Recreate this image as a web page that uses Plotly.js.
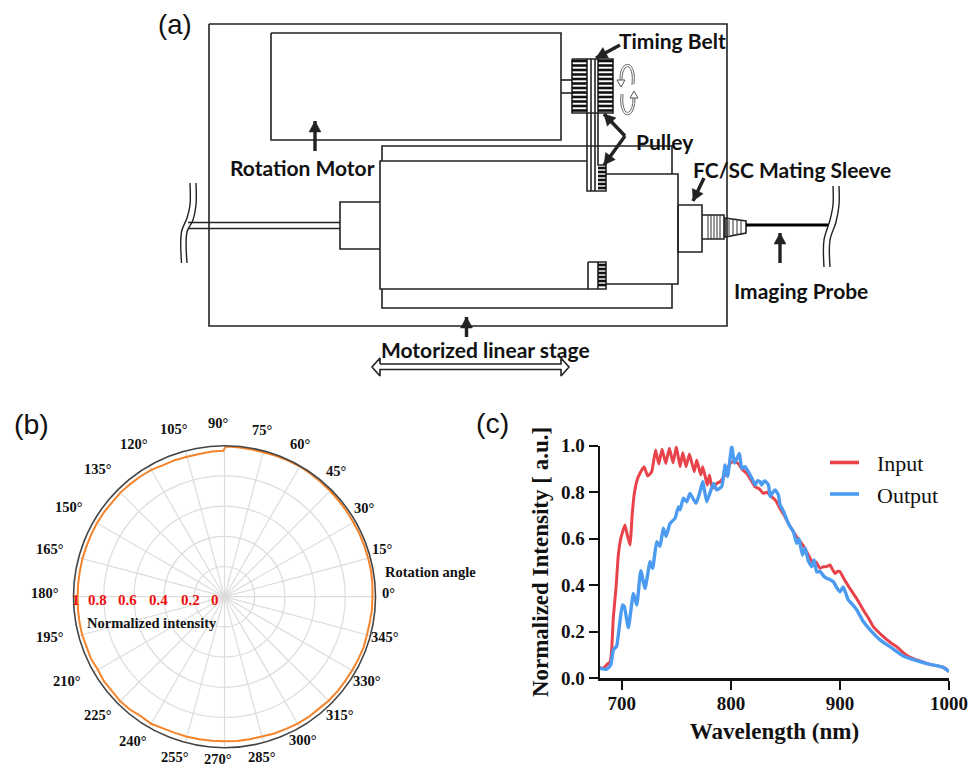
<!DOCTYPE html>
<html><head><meta charset="utf-8">
<script src="https://cdn.plot.ly/plotly-3.0.1.min.js"></script>
<style>html,body{margin:0;padding:0;background:#fff}</style></head>
<body><div id="chart" style="width:973px;height:767px"></div>
<script>
// Panel (c)
const inputWave=[680,683,686.7,689.3,690.7,692.2,694.7,696.8,699,702.9,705,707.5,709.6,711.5,714.2,717,720.4,723.7,727.4,731,733.9,736.9,740.3,743.6,747,750,753.4,755.9,758.9,762,766.4,768.7,772.4,774.2,778.4,780.3,783,787,790,794.7,799.3,802.3,806.7,810,814.4,818,822,826,829.7,833,837.3,841,845,849,852.6,856,860.2,864,867.9,871,875.5,878,881.7,885,887.8,890.8,893,895.4,898,900,904,909,915,921.4,926,930.6,935,939.8,946,952,958,964.2,973,982.6,991,996,1000];
const inputVal=[.047,.043,.061,.07,.122,.26,.39,.53,.60,.659,.616,.573,.709,.795,.855,.885,.91,.87,.888,.982,.921,.985,.924,.989,.927,.996,.91,.97,.91,.964,.888,.938,.874,.91,.831,.874,.817,.838,.845,.874,.924,.931,.924,.90,.881,.855,.824,.815,.795,.80,.781,.765,.73,.70,.666,.64,.609,.585,.559,.53,.494,.50,.473,.48,.48,.487,.47,.451,.46,.458,.425,.387,.345,.294,.26,.222,.20,.179,.155,.136,.11,.09,.075,.06,.052,.045,.029];
const outputWave=[680,686.1,689.8,692.2,695.3,697.7,700.5,702.3,706,710.6,713.7,717.4,721.3,725.9,728.3,732,735,738,740.5,744.2,748.8,751.9,753.4,756.4,759.5,762.5,768,771.7,774.2,777.9,784,787,791.6,794.7,797,800.8,803.3,805.5,807.8,810,813,816,819,822.3,824.5,826.8,828.2,831,834.5,836,838.5,840.6,843.6,845.1,848,851.3,854,857.3,860.4,862.5,865.6,868,871,874.2,876.3,878.7,881.7,885,887.8,890.5,894,897,900,903,907.6,911,915.3,921.4,927.5,936.7,945.9,958,970.3,982.6,994.8,1000];
const outputVal=[.043,.039,.057,.122,.139,.222,.315,.308,.218,.365,.315,.463,.387,.501,.473,.587,.567,.645,.61,.665,.688,.737,.724,.774,.759,.795,.752,.802,.845,.759,.838,.81,.824,.917,.867,.996,.925,.945,.967,.903,.91,.888,.862,.831,.85,.845,.831,.85,.831,.781,.80,.81,.788,.745,.72,.681,.655,.63,.58,.60,.53,.559,.505,.48,.509,.458,.46,.44,.43,.425,.415,.39,.372,.393,.337,.32,.295,.244,.209,.165,.136,.096,.076,.06,.047,.029];
const xTickVals=[700,800,900,1000];
const xTickText=['700','800','900','1000'];
const yTickVals=[0,0.2,0.4,0.6,0.8,1];
const yTickText=['0.0','0.2','0.4','0.6','0.8','1.0'];
const legendRows=[['Input','#e8434a',462.5],['Output','#4b9bf0',494]];

// Panel (b)
const polarAngles=[0,5,10,15,20,25,30,35,40,45,50,55,60,65,70,75,80,85,89.5,90.5,95,100,105,110,115,120,125,130,135,140,145,150,155,160,165,170,175,180,185,190,195,200,205,210,215,220,225,230,235,240,245,250,255,260,265,270,275,280,285,290,295,300,305,310,315,320,325,330,335,340,345,350,355,360];
const polarVals=[.98,.983,.985,.985,.985,.986,.985,.987,.988,.99,.992,.994,.996,.995,.993,.99,.992,.993,.995,.966,.965,.96,.96,.962,.962,.97,.972,.973,.975,.972,.975,.975,.974,.973,.974,.973,.973,.973,.974,.975,.976,.972,.975,.968,.975,.972,.978,.975,.966,.972,.962,.96,.96,.958,.958,.958,.959,.958,.958,.964,.966,.97,.972,.97,.975,.976,.975,.976,.978,.98,.977,.977,.98,.98];
const polarTicks=[[0,388,593],[15,382,549],[30,364,508],[45,336,471],[60,300,444],[75,262,430],[90,218,423],[105,174,429],[120,134,444],[135,98,469],[150,69,507],[165,50,549],[180,45,593],[195,50,637],[210,67,681],[225,98,715],[240,133,741],[255,175,757],[270,218,758.5],[285,262,757],[300,303,740],[315,340,715],[330,367,681],[345,385,637]];
const radialLabels=[['1',75.5],['0.8',97],['0.6',127],['0.4',158],['0.2',190],['0',215]];

// Panel (a), drawn on a page-sized scale
const outlines=[
 [[209,24],[727,24],[727,326],[209,326],[209,24]],
 [[271,33],[561,33],[561,140],[271,140],[271,33]],
 [[561,80],[572,80]],[[561,93],[572,93]],
 [[382,161],[382,146],[672,146],[672,174]],
 [[587,161],[380,161],[380,289],[588,289]],
 [[606,174],[678,174],[678,284],[606,284]],
 [[382,289],[382,308],[672,308],[672,284]],
 [[380,202],[340,202],[340,249],[380,249]],
 [[188,222.5],[340,222.5]],[[188,228.5],[340,228.5]],
 [[678,205],[702,205],[702,252],[678,252],[678,205]],
 [[702,215],[724,215],[724,239],[702,239]],
 [[725,218],[746,221],[746,233],[725,237],[725,218]],
 [[587,59],[587,191],[606,191],[606,165],[598,165],[598,59]],
 [[591,59],[591,191]],[[595,59],[595,191]],
 [[572,59],[613,59],[613,113],[572,113],[572,59]],
 [[588,262],[606,262],[606,289],[588,289],[588,262]],[[598,262],[598,289]],
 [[380,364],[561,364],[561,358],[569,367],[561,376],[561,369.5],[380,369.5],[380,376],[372,367],[380,358],[380,364]]
];
const curves=[
 [[196,183],[196,205],[193,220],[187,232],[187,263]],
 [[190,183],[190,205],[187,218],[181.5,232],[181.5,263]],
 [[839,186],[839,205],[836,222],[830,240],[830,267]],
 [[833,186],[833,205],[830,220],[824,240],[824,267]]
];
const spinLoops=[
 [[632,85],[632,74],[629,67],[626,67],[623,72],[622,80]],
 [[634,84],[634,73],[630,65],[625,65],[621,71],[620,80]],
 [[623,94],[623,104],[626,112],[629,112],[632,107],[633,98]],
 [[621,94],[621,105],[625,114],[630,114],[634,107],[635,98]]
];
const spinHeads=[
 [[617,80],[625,80],[621,87],[617,80]],
 [[630,98],[638,98],[634,91],[630,98]]
];
const upperRows=[61,65.5,70,74.5,79,83.5,88,92.5,97,101.5,106,110.5];
const lowerRowsTop=[168,172,176,180,184,188];
const lowerRowsBottom=[265,269,273,277,281,285];
const sleeveCols=[708,711,714,717,720];
const taperCols=[729,733,737,741];
const arrows=[
 [315,151,315,121],[620,45,596,58],[625,136,604,114],[625,136,604,165],
 [704,178,693,201],[780,263,780,233],[466.5,337,466.5,317]
];
const diagramLabels=[
 ['Timing Belt',672,40],['Pulley',665,141],['Rotation Motor',302,167],
 ['FC/SC Mating Sleeve',792,169],['Imaging Probe',801,290],['Motorized linear stage',485,349]
];
const panelLabels=[['(a)',175,24,27.5],['(b)',31,424,28.5],['(c)',492,423,28.5]];

function flatten(paths){const xs=[],ys=[];paths.forEach(p=>{p.forEach(q=>{xs.push(q[0]);ys.push(q[1]);});xs.push(null);ys.push(null);});return [xs,ys];}
function pageLine(paths,color,width,shape){const f=flatten(paths);return {type:'scatter',mode:'lines',x:f[0],y:f[1],xaxis:'x2',yaxis:'y2',hoverinfo:'skip',showlegend:false,line:{color:color,width:width,shape:shape||'linear',smoothing:1}};}
const teeth=[].concat(
 upperRows.map(y=>[[572,y],[587,y]]),upperRows.map(y=>[[598,y],[613,y]]),
 lowerRowsTop.map(y=>[[598,y],[606,y]]),lowerRowsBottom.map(y=>[[598,y],[606,y]]));
const hatch=[].concat(sleeveCols.map(x=>[[x,215],[x,239]]),taperCols.map(x=>[[x,220],[x,235]]));
const shafts=arrows.map(a=>[[a[0],a[1]],[a[2],a[3]]]);
const heads=arrows.map(a=>{
 const dx=a[2]-a[0],dy=a[3]-a[1],n=Math.hypot(dx,dy),ux=dx/n,uy=dy/n,bx=a[2]-ux*11,by=a[3]-uy*11;
 return [[a[2],a[3]],[bx-uy*6,by+ux*6],[bx+uy*6,by-ux*6],[a[2],a[3]]];
});
const headFlat=flatten(heads);

const traces=[
 {type:'scatterpolar',subplot:'polar',mode:'lines',r:polarVals,theta:polarAngles,line:{color:'#f5832a',width:2},showlegend:false,hoverinfo:'skip'},
 {type:'scatter',mode:'lines',name:'Input',x:inputWave,y:inputVal,line:{color:'#e8434a',width:3,shape:'spline',smoothing:0.4},hoverinfo:'skip',showlegend:false},
 {type:'scatter',mode:'lines',name:'Output',x:outputWave,y:outputVal,line:{color:'#4b9bf0',width:3.4,shape:'spline',smoothing:0.4},hoverinfo:'skip',showlegend:false},
 pageLine(outlines,'#222',1.6),
 pageLine(curves,'#222',1.4,'spline'),
 pageLine(spinLoops,'#666',1,'spline'),
 pageLine(spinHeads,'#555',1),
 pageLine(teeth,'#111',2.6),
 pageLine(hatch,'#333',1),
 pageLine([[[746,225],[828,225]]],'#000',3),
 pageLine(shafts,'#222',3.4),
 {type:'scatter',mode:'lines',x:headFlat[0],y:headFlat[1],xaxis:'x2',yaxis:'y2',fill:'toself',fillcolor:'#222',line:{color:'#222',width:0.5},hoverinfo:'skip',showlegend:false}
];
legendRows.forEach(r=>traces.push(pageLine([[[830,r[2]],[859,r[2]]]],r[1],3.6)));

const serifBold='"Liberation Serif"';
const ann=[];
function pageText(t,x,y,font,extra){ann.push(Object.assign({text:t,x:x,y:y,xref:'x2',yref:'y2',showarrow:false,xanchor:'center',yanchor:'middle',font:font},extra||{}));}
polarTicks.forEach(d=>pageText('<b>'+d[0]+'°</b>',d[1],d[2],{family:serifBold,size:14.5,color:'#111'}));
radialLabels.forEach(d=>pageText('<b>'+d[0]+'</b>',d[1],600,{family:serifBold,size:15,color:'#f01010'}));
pageText('<b>Normalized intensity</b>',152,623,{family:serifBold,size:14.5,color:'#111'});
pageText('<b>Rotation angle</b>',430,572,{family:serifBold,size:14.5,color:'#111'});
diagramLabels.forEach(d=>pageText('<b>'+d[0]+'</b>',d[1],d[2],{family:'Lato',size:21,color:'#111'}));
panelLabels.forEach(d=>pageText(d[0],d[1],d[2],{family:'Liberation Sans',size:d[3],color:'#111'}));
legendRows.forEach(r=>pageText(r[0],875,r[2]+1,{family:'Liberation Serif',size:22,color:'#111'},{xanchor:'left'}));

const layout={
 width:973,height:767,margin:{l:0,r:0,t:0,b:0},paper_bgcolor:'#fff',plot_bgcolor:'rgba(0,0,0,0)',showlegend:false,
 polar:{domain:{x:[73.5/973,375.5/973],y:[(767-747.7)/767,(767-445.7)/767]},bgcolor:'#fff',
  angularaxis:{tickmode:'array',tickvals:polarTicks.map(d=>d[0]),ticktext:polarTicks.map(()=>''),showticklabels:false,ticks:'',gridcolor:'#dcdcdc',gridwidth:1.2,linecolor:'#444',linewidth:1.6},
  radialaxis:{range:[0,1],tickvals:[0.2,0.4,0.6,0.8,1],showticklabels:false,ticks:'',showline:false,gridcolor:'#dcdcdc',gridwidth:1.2,angle:0}},
 xaxis:{domain:[600/973,949/973],range:[680,1000],tickmode:'array',tickvals:xTickVals,ticktext:xTickText,ticks:'outside',ticklen:9,tickwidth:2.4,linewidth:2.4,linecolor:'#111',tickcolor:'#111',showline:true,showgrid:false,zeroline:false,anchor:'y',
  tickfont:{family:serifBold,size:19,color:'#111',weight:'bold'},ticklabelstandoff:-3,title:{text:'<b>Wavelength (nm)</b>',font:{family:serifBold,size:23,color:'#111'},standoff:11}},
 yaxis:{domain:[(767-678.3)/767,(767-445.7)/767],range:[0,1],tickmode:'array',tickvals:yTickVals,ticktext:yTickText,ticks:'outside',ticklen:9,tickwidth:2.4,linewidth:2.4,linecolor:'#111',tickcolor:'#111',showline:true,showgrid:false,zeroline:false,anchor:'x',
  tickfont:{family:serifBold,size:19,color:'#111',weight:'bold'},title:{text:'<b>Normalized Intensity [ a.u.]</b>',font:{family:serifBold,size:23,color:'#111'},standoff:6}},
 xaxis2:{domain:[0,1],range:[0,973],visible:false,fixedrange:true,anchor:'y2'},
 yaxis2:{domain:[0,1],range:[767,0],visible:false,fixedrange:true,anchor:'x2'},
 annotations:ann
};
Plotly.newPlot('chart',traces,layout,{displayModeBar:false,staticPlot:true});
</script></body></html>
